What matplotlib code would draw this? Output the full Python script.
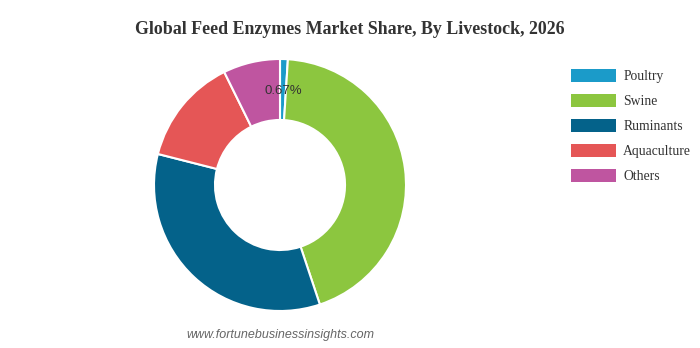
import matplotlib
matplotlib.use('Agg')
from matplotlib import pyplot as plt
from matplotlib.patches import Patch

# 数据
labels = ['Poultry', 'Swine', 'Ruminants', 'Aquaculture', 'Others']
shares = [1.0, 43.9, 34.1, 13.75, 7.3]
colors = ['#1b9bc9', '#8cc63f', '#04628a', '#e55656', '#bf55a0']
poultry_label = '0.67%'

fig = plt.figure(figsize=(7, 3.48), dpi=100)
ax = fig.add_axes([154 / 700, 37 / 348, 252 / 700, 252 / 348])

wedges, _ = ax.pie(shares, colors=colors, startangle=90, counterclock=False,
                   radius=1.0, wedgeprops=dict(width=0.484, edgecolor='white', linewidth=1.5))
ax.set_xlim(-1, 1)
ax.set_ylim(-1, 1)
ax.set_aspect('equal')
ax.axis('off')

# 数据标签
ax.text(0.03, 0.75, poultry_label, ha='center', va='center', fontsize=9.5,
        color='#333333', family='Liberation Sans')

fig.text(0.5, 0.915, 'Global Feed Enzymes Market Share, By Livestock, 2026',
         ha='center', va='center', fontsize=12.9, fontweight='bold',
         family='Liberation Serif', color='#333333')

handles = [Patch(facecolor=c, edgecolor='none') for c in colors]
leg = fig.legend(handles, labels, loc='upper left', bbox_to_anchor=(566 / 700, 1 - 64 / 348),
                 frameon=False, prop={'family': 'Liberation Serif', 'size': 9.8},
                 handlelength=3.3, handleheight=1.06, handletextpad=0.5,
                 labelspacing=0.8, borderaxespad=0)
for t in leg.get_texts():
    t.set_color('#333333')

fig.text(280 / 700, 1 - 335 / 348, 'www.fortunebusinessinsights.com', ha='center', va='center',
         fontsize=9, style='italic', family='Liberation Sans', color='#666666')

fig.savefig('out.png', dpi=100)
